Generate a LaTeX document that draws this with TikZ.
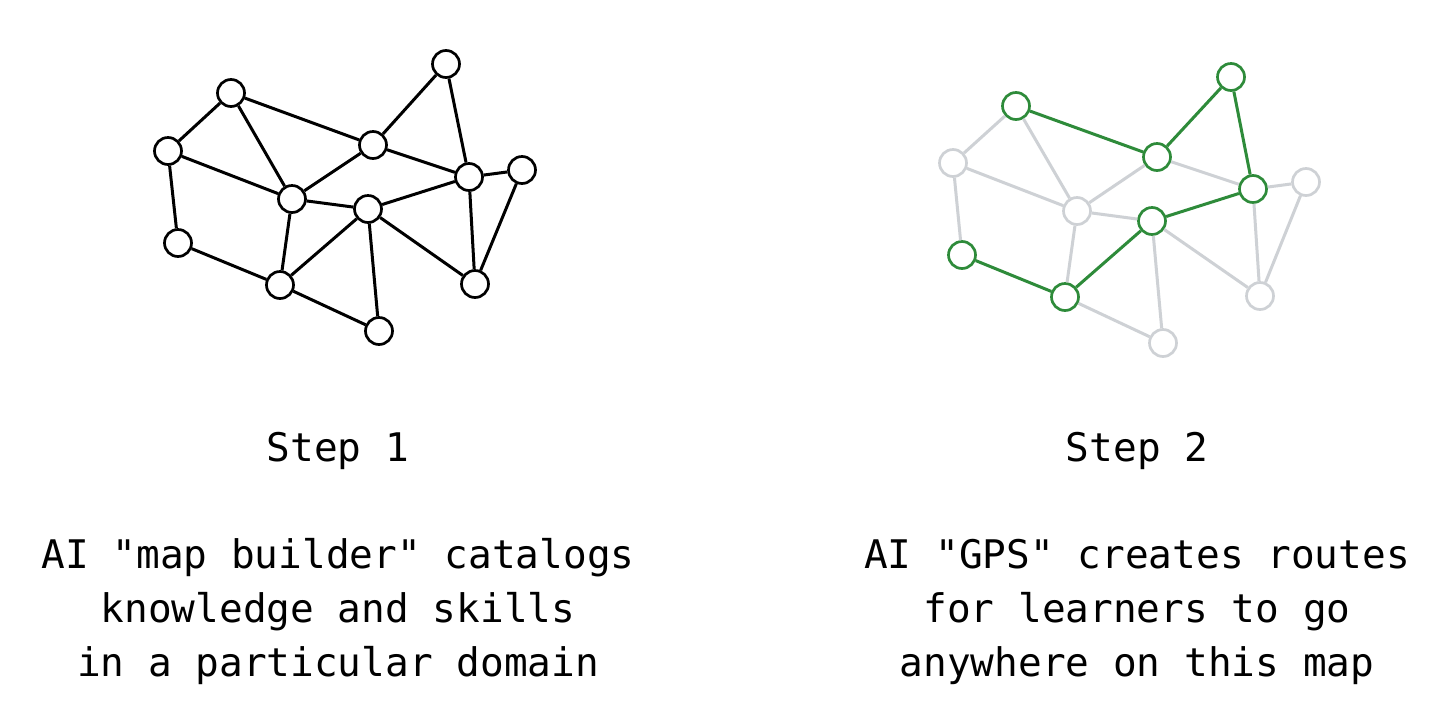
\documentclass[tikz,border=0pt]{standalone}
\usepackage{fontspec}
\setmonofont{DejaVu Sans Mono}
\definecolor{routegreen}{HTML}{2E8B3A}
\definecolor{fadegrey}{HTML}{CED1D5}
\begin{document}
\begin{tikzpicture}[x=1pt,y=-1pt,
  vtx/.style={circle,draw=black,fill=white,line width=2.7pt,minimum size=27pt,inner sep=0pt},
  vtxgrey/.style={vtx,draw=fadegrey},
  vtxgreen/.style={vtx,draw=routegreen},
  edge/.style={line width=3pt,draw=black},
  edgegrey/.style={line width=3pt,draw=fadegrey},
  edgegreen/.style={line width=3pt,draw=routegreen},
  txt/.style={font=\ttfamily\fontsize{39.4}{54}\selectfont,anchor=base,inner sep=0pt,align=center}]
\useasboundingbox (0,0) rectangle (1456,721);
\fill[white] (0,0) rectangle (1456,721);
% ---------- left graph ----------
\node[vtx] (A) at (231,93) {};
\node[vtx] (B) at (446,64) {};
\node[vtx] (C) at (168,151) {};
\node[vtx] (D) at (373,145) {};
\node[vtx] (E) at (469,177) {};
\node[vtx] (F) at (522,170) {};
\node[vtx] (G) at (292,199) {};
\node[vtx] (H) at (368,209) {};
\node[vtx] (I) at (178,243) {};
\node[vtx] (J) at (280,285) {};
\node[vtx] (K) at (475,284) {};
\node[vtx] (L) at (379,331) {};
\foreach \u/\v in {C/A,A/D,A/G,C/G,C/I,I/J,J/G,G/D,G/H,D/B,D/E,B/E,E/F,H/E,H/J,H/L,J/L,H/K,E/K,F/K}
  \draw[edge] (\u) -- (\v);
% ---------- right graph ----------
\node[vtxgreen] (A2) at (1016,106) {};
\node[vtxgreen] (B2) at (1231,77) {};
\node[vtxgrey] (C2) at (953,163) {};
\node[vtxgreen] (D2) at (1157,157) {};
\node[vtxgreen] (E2) at (1253,189) {};
\node[vtxgrey] (F2) at (1306,182) {};
\node[vtxgrey] (G2) at (1077,211) {};
\node[vtxgreen] (H2) at (1152,221) {};
\node[vtxgreen] (I2) at (962,255) {};
\node[vtxgreen] (J2) at (1065,297) {};
\node[vtxgrey] (K2) at (1260,296) {};
\node[vtxgrey] (L2) at (1163,343) {};
\foreach \u/\v in {C2/A2,A2/G2,C2/G2,C2/I2,J2/G2,G2/D2,G2/H2,D2/E2,E2/F2,H2/L2,J2/L2,H2/K2,E2/K2,F2/K2}
  \draw[edgegrey] (\u) -- (\v);
\foreach \u/\v in {A2/D2,D2/B2,B2/E2,E2/H2,H2/J2,J2/I2}
  \draw[edgegreen] (\u) -- (\v);
% ---------- texts ----------
\node[txt] (s1) at (338,461) {Step 1};
\node[txt] (t1a) at (338,568) {AI "map builder" catalogs};
\node[txt] (t1b) at (338,622) {knowledge and skills};
\node[txt] (t1c) at (338,676) {in a particular domain};
\node[txt] (s2) at (1137,461) {Step 2};
\node[txt] (t2a) at (1137,568) {AI "GPS" creates routes};
\node[txt] (t2b) at (1137,622) {for learners to go};
\node[txt] (t2c) at (1137,676) {anywhere on this map};
\end{tikzpicture}
\end{document}
